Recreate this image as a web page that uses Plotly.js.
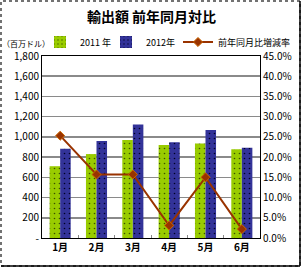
<!DOCTYPE html>
<html><head><meta charset="utf-8">
<script src="https://cdn.plot.ly/plotly-3.0.1.min.js"></script>
<style>html,body{margin:0;padding:0;background:#fff}#chart{width:303px;height:269px}</style>
</head><body><div id="chart"></div>
<script>
const months = ['1月','2月','3月','4月','5月','6月'];
const exports2011 = [710, 830, 970, 920, 935, 878];
const exports2012 = [882, 960, 1123, 947, 1068, 893];
const growthRate = [0.253, 0.157, 0.157, 0.031, 0.150, 0.022];
const leftTicks = [0, 200, 400, 600, 800, 1000, 1200, 1400, 1600, 1800];
const leftTickText = ['-', '200', '400', '600', '800', '1,000', '1,200', '1,400', '1,600', '1,800'];
const seriesNames = ['2011 年', '2012年', '前年同月比増減率'];

const FONT = 'Noto Sans CJK JP, Liberation Sans, sans-serif';
const traces = [
  {type:'bar', x:months, y:exports2011, name:seriesNames[0], legendwidth:21,
   marker:{color:'#99CC00', pattern:{shape:'.', size:5, solidity:0.08, fgcolor:'#3a5200', bgcolor:'#99CC00'}, line:{width:0}}},
  {type:'bar', x:months, y:exports2012, name:seriesNames[1], legendwidth:27,
   marker:{color:'#333399', pattern:{shape:'.', size:5, solidity:0.08, fgcolor:'#000022', bgcolor:'#333399'}, line:{width:0}}},
  {type:'scatter', mode:'lines+markers', x:months, y:growthRate, name:seriesNames[2], yaxis:'y2', legendwidth:74,
   line:{color:'#993300', width:2}, marker:{symbol:'diamond', size:7, color:'#993300', line:{color:'#cc6600', width:1}}}
];
const layout = {
  width:303, height:269,
  margin:{l:42, r:43, t:56, b:31},
  paper_bgcolor:'#fff', plot_bgcolor:'#fff',
  font:{family:FONT, size:10, color:'#000'},
  title:{text:'<b>輸出額 前年同月対比</b>', font:{family:FONT, size:14, color:'#000'}, x:0.5, xanchor:'center', y:1-17/269, yref:'container', yanchor:'middle'},
  barmode:'group', bargap:0.42, bargroupgap:0,
  showlegend:true,
  legend:{orientation:'h', xref:'paper', x:-2/218, xanchor:'left', yref:'paper', y:1+14/182, yanchor:'middle',
    font:{family:FONT, size:9}, itemwidth:30, tracegroupgap:0, borderwidth:0, bgcolor:'rgba(0,0,0,0)'},
  xaxis:{type:'category', showline:true, linecolor:'#000', linewidth:1, mirror:true,
    ticks:'inside', tickson:'boundaries', ticklen:3, tickcolor:'#888',
    tickfont:{family:FONT, size:10, color:'#000', weight:'bold'}, fixedrange:true},
  yaxis:{range:[0,1800], tickmode:'array', tickvals:leftTicks, ticktext:leftTickText,
    showgrid:true, gridcolor:'#8a8a8a', gridwidth:1.5, showline:true, linecolor:'#000', linewidth:1,
    ticks:'', zeroline:false, tickfont:{family:FONT, size:10, color:'#000'}},
  yaxis2:{overlaying:'y', side:'right', range:[0,0.45], dtick:0.05, tickformat:'.1%',
    showgrid:false, zeroline:false, showline:true, linecolor:'#000', linewidth:1, ticks:'',
    tickfont:{family:FONT, size:10, color:'#000'}},
  annotations:[{text:'（百万ドル）', xref:'paper', yref:'paper', x:-42/218, xanchor:'left', y:1+13/182, yanchor:'middle', showarrow:false, font:{family:FONT, size:8, color:'#000'}}],
  shapes:[
    {type:'rect', xref:'paper', yref:'paper', x0:-41/218, x1:258/218, y0:-28/182, y1:237/182, line:{color:'#444', width:1.5, dash:'dot'}},
    {type:'line', xref:'paper', yref:'paper', x0:-41/218, x1:258/218, y0:-28/182, y1:-28/182, line:{color:'#000', width:1.5}},
    {type:'line', xref:'paper', yref:'paper', x0:258/218, x1:258/218, y0:-28/182, y1:237/182, line:{color:'#000', width:1.5}}
  ]
};
Plotly.newPlot('chart', traces, layout, {displayModeBar:false, staticPlot:true});
</script></body></html>
